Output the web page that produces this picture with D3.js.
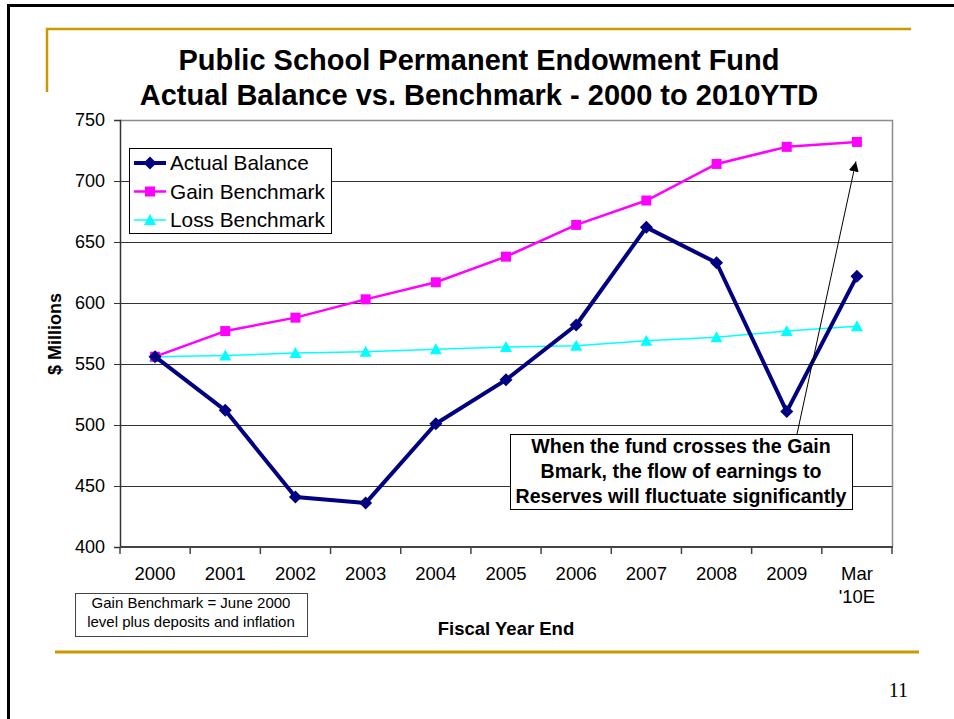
<!DOCTYPE html>
<html>
<head>
<meta charset="utf-8">
<script src="https://cdn.jsdelivr.net/npm/d3@7"></script>
<style>
  html, body { margin: 0; padding: 0; background: #fff; }
  svg { display: block; font-family: "Liberation Sans", Arial, sans-serif; }
</style>
</head>
<body>
<svg id="chart" width="954" height="719"></svg>
<script>
// Fiscal year categories along the x axis
const categories = ["2000", "2001", "2002", "2003", "2004", "2005", "2006", "2007", "2008", "2009", "Mar '10E"];
const categoryLabels = [["2000"], ["2001"], ["2002"], ["2003"], ["2004"], ["2005"], ["2006"], ["2007"], ["2008"], ["2009"], ["Mar", "'10E"]];

// Balances in $ millions
const actualBalance = [556, 512, 441, 436, 501, 537, 582, 662, 633, 511, 622];
const gainBenchmark = [556, 577, 588, 603, 617, 638, 664, 684, 714, 728, 732];
const lossBenchmark = [556, 557, 559, 560, 562, 564, 565, 569, 572, 577, 581];

const yTicks = [400, 450, 500, 550, 600, 650, 700, 750];
const arrowTargetValue = 716;

const titleLines = ["Public School Permanent Endowment Fund", "Actual Balance vs. Benchmark - 2000 to 2010YTD"];
const noteLines = ["Gain Benchmark = June 2000", "level plus deposits and inflation"];
const calloutLines = ["When the fund crosses the Gain", "Bmark, the flow of earnings to", "Reserves will fluctuate significantly"];

const series = [
  { name: "Actual Balance", values: actualBalance, color: "#000080", width: 4, marker: "diamond" },
  { name: "Gain Benchmark", values: gainBenchmark, color: "#FF00FF", width: 2.5, marker: "square" },
  { name: "Loss Benchmark", values: lossBenchmark, color: "#00FFFF", width: 1.5, marker: "triangle" }
];

const svg = d3.select("#chart");
const gold = "#CC9900";

// Slide frame
svg.append("line").attr("x1", 8.5).attr("x2", 8.5).attr("y1", 5).attr("y2", 719)
  .attr("stroke", "#000").attr("stroke-width", 3);
svg.append("line").attr("x1", 7).attr("x2", 954).attr("y1", 5.5).attr("y2", 5.5)
  .attr("stroke", "#000").attr("stroke-width", 3);
svg.append("path").attr("d", "M47,92V29H911")
  .attr("fill", "none").attr("stroke", gold).attr("stroke-width", 2.5);
svg.append("line").attr("x1", 55).attr("x2", 919).attr("y1", 652).attr("y2", 652)
  .attr("stroke", gold).attr("stroke-width", 3);

// Title
svg.append("text").attr("x", 479).attr("text-anchor", "middle")
  .attr("font-weight", "bold").attr("font-size", 29).attr("fill", "#000")
  .selectAll("tspan").data(titleLines).join("tspan")
  .attr("x", 479).attr("y", (d, i) => 70 + i * 35).text(d => d);

// Plot area
const plotLeft = 120, plotRight = 892, plotTop = 120, plotBottom = 547;
const x = d3.scaleBand().domain(categories).range([plotLeft, plotRight]).padding(0);
const y = d3.scaleLinear().domain([400, 750]).range([plotBottom, plotTop]);
const cx = c => x(c) + x.bandwidth() / 2;

// Gridlines
svg.append("g").selectAll("line").data(yTicks.filter(v => v > 400 && v < 750)).join("line")
  .attr("x1", plotLeft).attr("x2", plotRight)
  .attr("y1", d => Math.round(y(d)) + 0.5).attr("y2", d => Math.round(y(d)) + 0.5)
  .attr("stroke", "#333").attr("stroke-width", 1);

// Plot frame (top / right)
svg.append("path").attr("d", `M${plotLeft},${plotTop + 0.5}H${plotRight + 0.5}V${plotBottom}`)
  .attr("fill", "none").attr("stroke", "#8c8c8c").attr("stroke-width", 1.5);

// Y axis
const yAxis = d3.axisLeft(y).tickValues(yTicks).tickSize(6).tickPadding(9).tickFormat(d3.format("d"));
const gy = svg.append("g").attr("transform", `translate(${plotLeft},0)`).call(yAxis);
gy.select(".domain").attr("stroke", "#333").attr("stroke-width", 1.5);
gy.selectAll(".tick line").attr("stroke", "#333");
gy.selectAll(".tick text").attr("font-size", 18).attr("fill", "#000")
  .attr("font-family", "Liberation Sans, Arial, sans-serif");

// X axis: tick marks at category boundaries
const gx = svg.append("g");
gx.append("line").attr("x1", plotLeft).attr("x2", plotRight + 1).attr("y1", plotBottom).attr("y2", plotBottom)
  .attr("stroke", "#444").attr("stroke-width", 2);
const boundaries = categories.map(c => x(c)).concat([plotRight]);
gx.selectAll("line.tk").data(boundaries).join("line").attr("class", "tk")
  .attr("x1", d => d).attr("x2", d => d).attr("y1", plotBottom).attr("y2", plotBottom + 7)
  .attr("stroke", "#444").attr("stroke-width", 1.5);
gx.selectAll("text.lbl").data(categories).join("text").attr("class", "lbl")
  .attr("text-anchor", "middle").attr("font-size", 18.5).attr("fill", "#000")
  .each(function (c, i) {
    d3.select(this).selectAll("tspan").data(categoryLabels[i]).join("tspan")
      .attr("x", cx(c)).attr("y", (d, j) => 580 + j * 23).text(d => d);
  });

// Axis titles
svg.append("text").attr("transform", "translate(61,334) rotate(-90)")
  .attr("text-anchor", "middle").attr("font-weight", "bold").attr("font-size", 18)
  .text("$ Millions");
svg.append("text").attr("x", 506).attr("y", 635).attr("text-anchor", "middle")
  .attr("font-weight", "bold").attr("font-size", 18.5).text("Fiscal Year End");

// Marker shapes
function markerPath(type, px, py) {
  if (type === "diamond") {
    const r = 6.5;
    return `M${px},${py - r}L${px + r},${py}L${px},${py + r}L${px - r},${py}Z`;
  }
  if (type === "square") {
    const r = 5;
    return `M${px - r},${py - r}H${px + r}V${py + r}H${px - r}Z`;
  }
  const w = 6, h = 5;
  return `M${px},${py - h - 1}L${px + w},${py + h}L${px - w},${py + h}Z`;
}

// Series lines and markers (drawn back to front)
const line = d3.line().x((d, i) => cx(categories[i])).y(d => y(d));
[...series].reverse().forEach(s => {
  svg.append("path").datum(s.values).attr("d", line)
    .attr("fill", "none").attr("stroke", s.color).attr("stroke-width", s.width)
    .attr("stroke-linejoin", "round");
  svg.append("g").selectAll("path").data(s.values).join("path")
    .attr("d", (d, i) => markerPath(s.marker, cx(categories[i]), y(d)))
    .attr("fill", s.color);
});

// Legend
const legend = svg.append("g");
legend.append("rect").attr("x", 129.5).attr("y", 148.5).attr("width", 202).attr("height", 85)
  .attr("fill", "#fff").attr("stroke", "#000").attr("stroke-width", 1);
series.forEach((s, i) => {
  const ly = 163 + i * 28.5;
  legend.append("line").attr("x1", 134).attr("x2", 166).attr("y1", ly).attr("y2", ly)
    .attr("stroke", s.color).attr("stroke-width", s.width);
  legend.append("path").attr("d", markerPath(s.marker, 150, ly)).attr("fill", s.color);
  legend.append("text").attr("x", 170).attr("y", ly + 7).attr("font-size", 20.8).attr("fill", "#000")
    .text(s.name);
});

// Callout box with arrow to the latest gain benchmark
const defs = svg.append("defs");
defs.append("marker").attr("id", "arrowhead").attr("viewBox", "0 0 10 10")
  .attr("refX", 10).attr("refY", 5).attr("markerWidth", 10).attr("markerHeight", 10)
  .attr("markerUnits", "userSpaceOnUse").attr("orient", "auto")
  .append("path").attr("d", "M0,0L10,5L0,10Z").attr("fill", "#000");
svg.append("line").attr("x1", 797).attr("y1", 434)
  .attr("x2", cx(categories[categories.length - 1]) - 1).attr("y2", y(arrowTargetValue))
  .attr("stroke", "#000").attr("stroke-width", 1).attr("marker-end", "url(#arrowhead)");
svg.append("rect").attr("x", 510.5).attr("y", 434.5).attr("width", 342).attr("height", 75)
  .attr("fill", "#fff").attr("stroke", "#000").attr("stroke-width", 1);
svg.append("text").attr("text-anchor", "middle").attr("font-weight", "bold").attr("font-size", 19.6)
  .selectAll("tspan").data(calloutLines).join("tspan")
  .attr("x", 681).attr("y", (d, i) => 453 + i * 25).text(d => d);

// Footnote box
svg.append("rect").attr("x", 75.5).attr("y", 593.5).attr("width", 232).attr("height", 43)
  .attr("fill", "#fff").attr("stroke", "#444").attr("stroke-width", 1);
svg.append("text").attr("text-anchor", "middle").attr("font-size", 15)
  .selectAll("tspan").data(noteLines).join("tspan")
  .attr("x", 191).attr("y", (d, i) => 608 + i * 18.5).text(d => d);

// Page number
svg.append("text").attr("x", 908).attr("y", 697).attr("text-anchor", "end")
  .attr("font-family", "Liberation Serif, Times New Roman, serif").attr("font-size", 20)
  .text("11");
</script>
</body>
</html>
